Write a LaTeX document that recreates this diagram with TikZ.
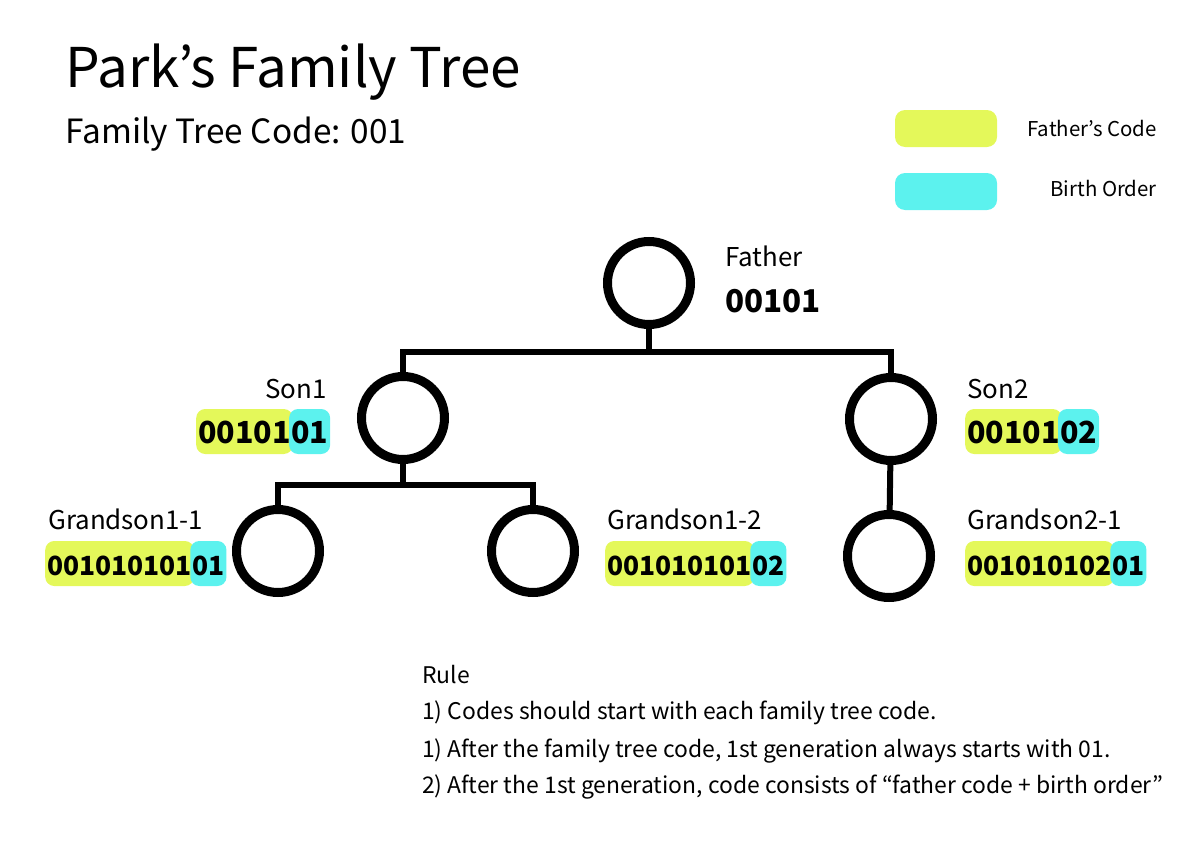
\documentclass[tikz,border=0pt]{standalone}
\usepackage{fontspec}
\setmainfont{Noto Sans CJK KR}
\usetikzlibrary{positioning}
\definecolor{fyellow}{HTML}{E4F85A}
\definecolor{bcyan}{HTML}{5CF2EE}

\begin{document}
\begin{tikzpicture}[x=1bp, y=-1bp,
    person/.style={circle, draw, line width=9bp, minimum size=83bp, inner sep=0pt},
    link/.style={line width=6bp},
    txt/.style={inner sep=0pt, anchor=base west},
    namelbl/.style={txt, font=\fontsize{26}{30}\selectfont},
    fcode/.style={rounded corners=9bp, fill=fyellow, inner xsep=2bp, inner ysep=11bp, text height=23bp, text depth=0pt, anchor=base west, font=\bfseries\fontsize{30.5}{35}\selectfont},
    bcode/.style={fcode, fill=bcyan},
    gfcode/.style={fcode, font=\bfseries\fontsize{26.5}{31}\selectfont},
    gbcode/.style={gfcode, fill=bcyan},
    legbox/.style={rounded corners=10bp, minimum width=102bp, minimum height=37bp, inner sep=0pt}
]
\useasboundingbox (0,0) rectangle (1191,842);

% Title
\node[txt, font=\fontsize{55}{60}\selectfont] (title) at (65,87) {Park’s Family Tree};
\node[txt, font=\fontsize{33.5}{38}\selectfont] (subtitle) at (65,143) {Family Tree Code: 001};

% Legend
\node[legbox, fill=fyellow] (legf) at (946,128.5) {};
\node[legbox, fill=bcyan] (legb) at (946,191.5) {};
\node[txt, anchor=base east, font=\fontsize{20.5}{24}\selectfont] (legftxt) at (1157,136) {Father’s Code};
\node[txt, anchor=base east, font=\fontsize{20.5}{24}\selectfont] (legbtxt) at (1157,196) {Birth Order};

% People
\node[person] (father) at (649,283) {};
\node[person] (son1) at (403,418) {};
\node[person] (son2) at (891,419) {};
\node[person] (g11) at (278,551) {};
\node[person] (g12) at (533,551) {};
\node[person] (g21) at (889,556) {};

% Names and codes
\node[namelbl] (fathername) at (725,266) {Father};
\node[txt, font=\bfseries\fontsize{31.5}{36}\selectfont] (fathercode) at (725,312) {00101};

\node[namelbl, anchor=base east] (son1name) at (327,398) {Son1};
\node[fcode] (s1f) at (196,443) {00101};
\node[bcode, right=-4bp of s1f] (s1b) {01};

\node[namelbl] (son2name) at (967,398) {Son2};
\node[fcode] (s2f) at (965,443) {00101};
\node[bcode, right=-4bp of s2f] (s2b) {02};

\node[namelbl] (g11name) at (48,529) {Grandson1-1};
\node[gfcode] (g11f) at (45,575) {001010101};
\node[gbcode, right=-4bp of g11f] (g11b) {01};

\node[namelbl] (g12name) at (607,529) {Grandson1-2};
\node[gfcode] (g12f) at (605,575) {001010101};
\node[gbcode, right=-4bp of g12f] (g12b) {02};

\node[namelbl] (g21name) at (967,529) {Grandson2-1};
\node[gfcode] (g21f) at (965,575) {001010102};
\node[gbcode, right=-4bp of g21f] (g21b) {01};

% Connectors
\coordinate (fbar) at (649,352);
\coordinate (s1bar) at (403,485);
\draw[link] (father) -- (fbar);
\draw[link] (son1.north) -- (son1.north |- fbar) -- (son2.north |- fbar) -- (son2.north);
\draw[link] (son1) -- (s1bar);
\draw[link] (g11.north) -- (g11.north |- s1bar) -- (g12.north |- s1bar) -- (g12.north);
\draw[link] (son2) -- (g21);

% Rules
\node[txt, font=\fontsize{23}{28}\selectfont] (rule0) at (422,683) {Rule};
\node[txt, font=\fontsize{23}{28}\selectfont] (rule1) at (422,719) {1) Codes should start with each family tree code.};
\node[txt, font=\fontsize{23}{28}\selectfont] (rule2) at (422,757) {1) After the family tree code, 1st generation always starts with 01.};
\node[txt, font=\fontsize{23}{28}\selectfont] (rule3) at (422,793) {2) After the 1st generation, code consists of “father code + birth order”};

\end{tikzpicture}
\end{document}
